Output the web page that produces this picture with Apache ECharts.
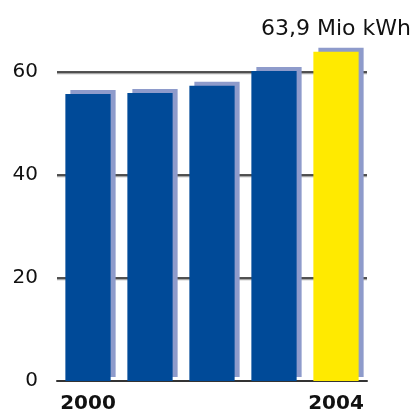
<!DOCTYPE html>
<html>
<head>
<meta charset="utf-8">
<script src="https://cdn.jsdelivr.net/npm/echarts@6/dist/echarts.min.js"></script>
<style>
  html, body { margin: 0; padding: 0; background: #fff; }
  #chart { width: 412px; height: 414px; }
</style>
</head>
<body>
<div id="chart"></div>
<script>
// Stromverbrauch in Mio kWh, 2000–2004
const years = ['2000', '2001', '2002', '2003', '2004'];
const values = [55.7, 55.9, 57.3, 60.2, 63.9];
const yTicks = [0, 20, 40, 60];
const unit = 'Mio kWh';

const BLUE = '#004a98';
const YELLOW = '#ffea00';
const SHADE = '#8e9bcb';
const FONT = 'DejaVu Sans';

const lastIdx = values.length - 1;

const chart = echarts.init(document.getElementById('chart'), null, { renderer: 'canvas' });

chart.setOption({
  animation: false,
  grid: { left: 57, right: 45, top: 41, bottom: 31.5 },
  xAxis: {
    type: 'category',
    data: years,
    axisLine: { lineStyle: { color: '#333', width: 2 } },
    axisTick: { show: false },
    axisLabel: {
      interval: (i) => i === 0 || i === lastIdx,
      color: '#111',
      fontFamily: FONT,
      fontWeight: 'bold',
      fontSize: 20,
      margin: 13
    }
  },
  yAxis: {
    type: 'value',
    min: 0,
    max: 66,
    interval: 20,
    axisLine: { show: false },
    axisTick: { show: false },
    axisLabel: {
      showMaxLabel: false,
      formatter: (v) => (yTicks.indexOf(v) >= 0 ? String(v) : ''),
      color: '#111',
      fontFamily: FONT,
      fontSize: 20,
      margin: 19
    },
    splitLine: {
      showMinLine: false,
      showMaxLine: false,
      lineStyle: {
        color: '#1a1a1a',
        width: 1.5,
        shadowColor: 'rgba(0,0,0,0.35)',
        shadowOffsetY: 1.5,
        shadowBlur: 0
      }
    }
  },
  series: [{
    type: 'bar',
    data: values.map((v, i) => ({
      value: v,
      itemStyle: { color: i === lastIdx ? YELLOW : BLUE },
      label: i === lastIdx ? {
        show: true,
        position: 'top',
        distance: 12,
        formatter: (p) => p.value.toFixed(1).replace('.', ',') + ' ' + unit,
        color: '#111',
        fontFamily: FONT,
        fontSize: 22
      } : { show: false }
    })),
    barCategoryGap: '27%',
    itemStyle: {
      shadowColor: SHADE,
      shadowBlur: 0,
      shadowOffsetX: 5,
      shadowOffsetY: -4
    }
  }]
});
</script>
</body>
</html>
